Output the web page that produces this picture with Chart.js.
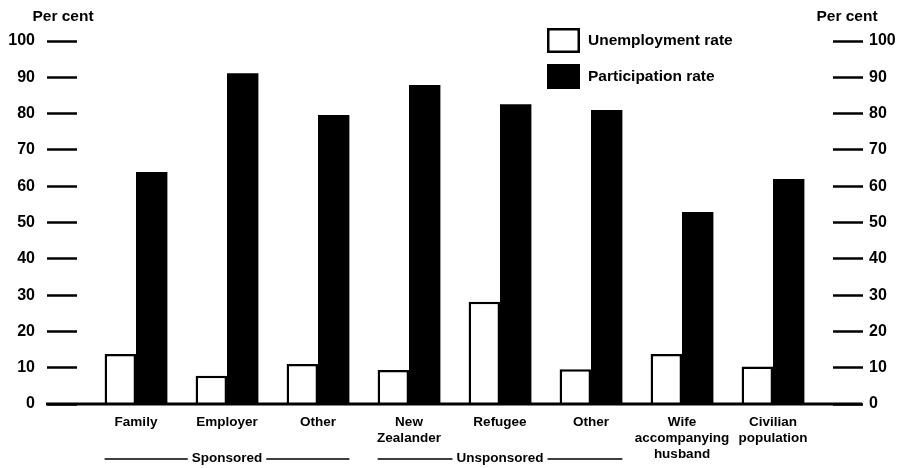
<!DOCTYPE html>
<html>
<head>
<meta charset="utf-8">
<script src="https://cdn.jsdelivr.net/npm/chart.js@4"></script>
<style>
  body { margin: 0; background: #fff; }
  canvas { display: block; }
</style>
</head>
<body>
<canvas id="migrantChart" width="908" height="468"></canvas>
<script>
// Categories and values
const categories = [
    "Family", "Employer", "Other", ["New", "Zealander"], "Refugee", "Other",
    ["Wife", "accompanying", "husband"], ["Civilian", "population"]
];
const unemploymentRate = [13.8, 7.8, 11.0, 9.4, 28.2, 9.6, 13.8, 10.3];
const participationRate = [63.9, 91.1, 79.6, 87.9, 82.6, 81.0, 52.9, 62.0];
const seriesLabels = ["Unemployment rate", "Participation rate"];

// category groups underlined beneath the axis (index ranges)
const groupNames = ["Sponsored", "Unsponsored"];
const groupStart = [0, 3];
const groupEnd = [2, 5];

const yTicksMin = 0;
const yTicksMax = 100;
const yTicksStep = 10;

const FONT = "'Liberation Sans', Arial, sans-serif";
const INK = "#000";

/* ---------------------------------------------------
    Extras: baseline, group rules, legend, axis titles
---------------------------------------------------*/
const extrasPlugin = {
    id: "extras",
    afterDraw(chart) {
        const ctx = chart.ctx;
        const yL = chart.scales.y;
        const yR = chart.scales.yR;
        const zero = yL.getPixelForValue(0);

        ctx.save();

        // heavy baseline running out under both tick columns
        ctx.strokeStyle = INK;
        ctx.lineWidth = 3;
        ctx.beginPath();
        ctx.moveTo(yL.right - yL.options.grid.tickLength - 1, zero);
        ctx.lineTo(yR.left + yR.options.grid.tickLength - 1, zero);
        ctx.stroke();

        // group labels with rules either side
        const metaA = chart.getDatasetMeta(0);
        const metaB = chart.getDatasetMeta(1);
        ctx.font = "bold 13.5px " + FONT;
        ctx.fillStyle = INK;
        ctx.textBaseline = "middle";
        ctx.textAlign = "center";
        ctx.lineWidth = 1.5;
        const gy = 458;
        groupNames.forEach((name, i) => {
            const a = metaA.data[groupStart[i]];
            const b = metaB.data[groupEnd[i]];
            const left = a.x - a.width / 2;
            const right = b.x + b.width / 2;
            const mid = (left + right) / 2;
            const half = ctx.measureText(name).width / 2 + 4;
            ctx.fillText(name, mid, gy);
            ctx.beginPath();
            ctx.moveTo(left, gy + 1);
            ctx.lineTo(mid - half, gy + 1);
            ctx.moveTo(mid + half, gy + 1);
            ctx.lineTo(right, gy + 1);
            ctx.stroke();
        });

        // "Per cent" over both value columns
        ctx.font = "bold 15.5px " + FONT;
        ctx.fillText("Per cent", 63, 17);
        ctx.fillText("Per cent", 847, 17);

        // legend
        const lx = 547, ly = [28, 64];
        ctx.font = "bold 15.5px " + FONT;
        ctx.textAlign = "left";
        chart.data.datasets.forEach((ds, i) => {
            ctx.fillStyle = ds.backgroundColor;
            ctx.fillRect(lx, ly[i], 33, 25);
            ctx.lineWidth = 2.5;
            ctx.strokeStyle = INK;
            ctx.strokeRect(lx + 1.25, ly[i] + 1.25, 30.5, 22.5);
            ctx.fillStyle = INK;
            ctx.fillText(ds.label, 588, ly[i] + 13);
        });

        ctx.restore();
    }
};

function valueAxis(position, padding, width) {
    return {
        type: "linear",
        position: position,
        weight: 1,
        min: yTicksMin,
        max: yTicksMax,
        ticks: {
            stepSize: yTicksStep,
            padding: padding,
            color: INK,
            font: { family: FONT, size: 16, weight: "bold" }
        },
        grid: {
            drawOnChartArea: false,
            tickLength: 30,
            tickWidth: 2.5,
            tickColor: INK
        },
        border: { display: false },
        afterFit: (scale) => { scale.width = width; }
    };
}

function spacerAxis(position, width) {
    return {
        type: "linear",
        position: position,
        weight: 0,
        display: true,
        ticks: { display: false },
        grid: { display: false },
        border: { display: false },
        afterFit: (scale) => { scale.width = width; }
    };
}

new Chart(document.getElementById("migrantChart"), {
    type: "bar",
    data: {
        labels: categories,
        datasets: [{
            label: seriesLabels[0],
            data: unemploymentRate,
            backgroundColor: "#fff",
            borderColor: INK,
            borderWidth: 2.5,
            yAxisID: "y"
        }, {
            label: seriesLabels[1],
            data: participationRate,
            backgroundColor: INK,
            borderWidth: 0,
            yAxisID: "y"
        }]
    },
    options: {
        responsive: false,
        animation: false,
        categoryPercentage: 0.69,
        barPercentage: 1.0,
        layout: { padding: { top: 41, left: 0, right: 0, bottom: 0 } },
        plugins: {
            legend: { display: false },
            tooltip: { enabled: false },
            title: { display: false }
        },
        scales: {
            x: {
                type: "category",
                offset: true,
                grid: { display: false, drawTicks: false },
                border: { display: false },
                ticks: {
                    autoSkip: false,
                    maxRotation: 0,
                    padding: 10,
                    color: INK,
                    font: { family: FONT, size: 13.5, weight: "bold", lineHeight: 1.2 }
                },
                afterFit: (scale) => { scale.height = 64; }
            },
            y: valueAxis("left", 12, 77),
            yLs: spacerAxis("left", 13.5),
            yR: valueAxis("right", 6, 75),
            yRs: spacerAxis("right", 14.5)
        }
    },
    plugins: [extrasPlugin]
});
</script>
</body>
</html>
